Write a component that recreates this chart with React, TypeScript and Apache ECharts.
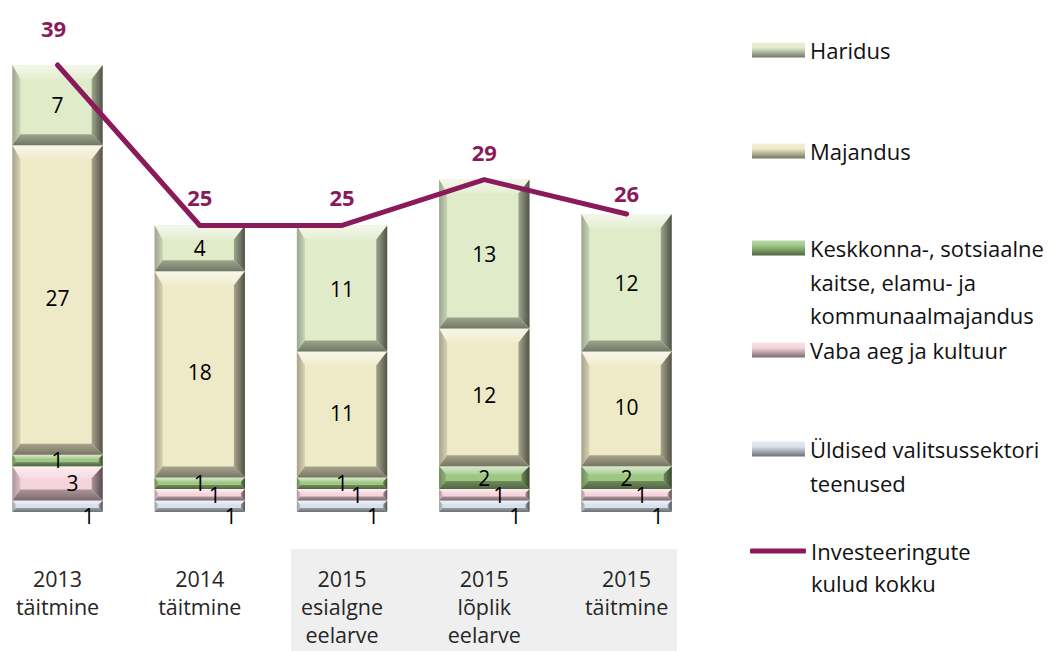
import React, { useEffect, useRef } from 'react';
import * as echarts from 'echarts';

const categories = ['2013\ntäitmine', '2014\ntäitmine', '2015\nesialgne\neelarve', '2015\nlõplik\neelarve', '2015\ntäitmine'];
const yldised = [1, 1, 1, 1, 1];
const vabaAeg = [3, 1, 1, 1, 1];
const keskkonna = [1, 1, 1, 2, 2];
const majandus = [27, 18, 11, 12, 10];
const haridus = [7, 4, 11, 13, 12];
const kokku = [39, 25, 25, 29, 26];

const stackNames = [
  'Üldised valitsussektori teenused',
  'Vaba aeg ja kultuur',
  'Keskkonna-, sotsiaalne kaitse, elamu- ja kommunaalmajandus',
  'Majandus',
  'Haridus',
];
const stackValues = [yldised, vabaAeg, keskkonna, majandus, haridus];
const stackColors = ['#d8e0ea', '#f6d4dc', '#9fc784', '#eee9c7', '#e0ebca'];
const labelOffsets = [[31, 10], [15, 0], [0, 0], [0, -2], [0, 0]];
const lineName = 'Investeeringute kulud kokku';
const lineColor = '#8b1a5b';
const lineLabelOffsets = [[-4, -9], [0, 0], [0, 0], [0, 0], [0, 7]];

const OFF = 14; // chart canvas is shifted left so the first bar can sit close to the page edge
const FONT = '"Open Sans", Lato, sans-serif';

function hexToRgb(h: string) {
  const n = parseInt(h.slice(1), 16);
  return [(n >> 16) & 255, (n >> 8) & 255, n & 255];
}
function mix(h: string, target: string, t: number) {
  const a = hexToRgb(h);
  const b = hexToRgb(target);
  const c = a.map((v, i) => Math.round(v + (b[i] - v) * t));
  return `rgb(${c[0]},${c[1]},${c[2]})`;
}

function makeRender(color: string, off: number[]) {
  return (params: any, api: any) => {
    const idx = api.value(0);
    const val = api.value(1);
    const base = api.value(2);
    const pb = api.coord([idx, base]);
    const pt = api.coord([idx, base + val]);
    const bw = api.size([1, 0])[0] * 0.635;
    const x0 = pb[0] - bw / 2;
    const x1 = pb[0] + bw / 2;
    const yb = pb[1];
    const yt = pt[1];
    const h = yb - yt;
    const bt = Math.min(14, h * 0.35);
    const bb = Math.min(11, h * 0.35);
    const bl = Math.min(8, h * 0.3);
    const br = Math.min(11, h * 0.35);
    const V = (a: string, b: string) =>
      new echarts.graphic.LinearGradient(0, 0, 0, 1, [{ offset: 0, color: a }, { offset: 1, color: b }]);
    const H = (a: string, b: string) =>
      new echarts.graphic.LinearGradient(0, 0, 1, 0, [{ offset: 0, color: a }, { offset: 1, color: b }]);
    const cx = (x0 + x1) / 2;
    const cy = (yt + yb) / 2;
    return {
      type: 'group',
      children: [
        { type: 'rect', shape: { x: x0, y: yt, width: bw, height: h }, style: { fill: color } },
        {
          type: 'polygon',
          shape: { points: [[x0, yt], [x1, yt], [x1 - br, yt + bt], [x0 + bl, yt + bt]] },
          style: { fill: V(mix(color, '#ffffff', 0.6), mix(color, '#ffffff', 0.15)) },
        },
        {
          type: 'polygon',
          shape: { points: [[x0, yt], [x0 + bl, yt + bt], [x0 + bl, yb - bb], [x0, yb]] },
          style: { fill: H(mix(color, '#000000', 0.3), mix(color, '#000000', 0.1)) },
        },
        {
          type: 'polygon',
          shape: { points: [[x1, yt], [x1 - br, yt + bt], [x1 - br, yb - bb], [x1, yb]] },
          style: { fill: H(mix(color, '#000000', 0.3), mix(color, '#000000', 0.65)) },
        },
        {
          type: 'polygon',
          shape: { points: [[x0, yb], [x1, yb], [x1 - br, yb - bb], [x0 + bl, yb - bb]] },
          style: { fill: V(mix(color, '#000000', 0.3), mix(color, '#000000', 0.5)) },
        },
        {
          type: 'text',
          x: cx + off[0],
          y: cy + off[1],
          style: {
            text: String(val),
            fill: '#000000',
            font: `21px ${FONT}`,
            align: 'center',
            verticalAlign: 'middle',
          },
          z2: 10,
        },
      ],
    };
  };
}

const customSeries = stackNames.map((name, si) => {
  const data = stackValues[si].map((v, ci) => {
    let base = 0;
    for (let k = 0; k < si; k++) base += stackValues[k][ci];
    return [ci, v, base];
  });
  const c = stackColors[si];
  return {
    type: 'custom',
    name,
    data,
    encode: { x: 0, y: 1 },
    itemStyle: {
      color: new echarts.graphic.LinearGradient(0, 0, 0, 1, [
        { offset: 0, color: mix(c, '#ffffff', 0.3) },
        { offset: 0.35, color: c },
        { offset: 1, color: mix(c, '#000000', 0.5) },
      ]),
    },
    renderItem: makeRender(c, labelOffsets[si]),
    z: 2,
  };
});

const legendDefs = [
  { name: 'Haridus', lines: ['Haridus'], c: 50, lh: 34 },
  { name: 'Majandus', lines: ['Majandus'], c: 151, lh: 34 },
  {
    name: 'Keskkonna-, sotsiaalne kaitse, elamu- ja kommunaalmajandus',
    lines: ['Keskkonna-, sotsiaalne', 'kaitse, elamu- ja', 'kommunaalmajandus'],
    c: 248,
    lh: 33.5,
  },
  { name: 'Vaba aeg ja kultuur', lines: ['Vaba aeg ja kultuur'], c: 350, lh: 34 },
  { name: 'Üldised valitsussektori teenused', lines: ['Üldised valitsussektori', 'teenused'], c: 449, lh: 34 },
  { name: lineName, lines: ['Investeeringute', 'kulud kokku'], c: 551, lh: 32 },
];

const legends = legendDefs.map((d) => {
  const isLine = d.name === lineName;
  const n = d.lines.length;
  // leading blank lines keep the first text line level with the icon
  const text = '\n'.repeat(n - 1) + d.lines.join('\n');
  return {
    data: [d.name],
    left: (isLine ? 750 : 752) + OFF,
    top: d.c - ((2 * n - 1) * d.lh) / 2,
    padding: 0,
    orient: 'vertical',
    selectedMode: false,
    icon: isLine ? 'roundRect' : 'rect',
    itemWidth: isLine ? 56 : 53,
    itemHeight: isLine ? 5 : 15,
    itemGap: 0,
    formatter: () => text,
    textStyle: {
      fontFamily: FONT,
      fontSize: 22,
      color: '#111111',
      lineHeight: d.lh,
    },
  };
});

const option: any = {
  animation: false,
  backgroundColor: '#ffffff',
  grid: { left: -13.6 + OFF, right: 360.3, top: 53.55, bottom: 139 },
  xAxis: {
    type: 'category',
    data: categories,
    axisLine: { show: false },
    axisTick: { show: false },
    axisLabel: {
      margin: 52,
      fontFamily: FONT,
      fontSize: 21.5,
      lineHeight: 28,
      color: '#262626',
      interval: 0,
    },
  },
  yAxis: {
    type: 'value',
    min: 0,
    max: 40,
    show: false,
    splitLine: { show: false },
  },
  legend: legends,
  graphic: [
    {
      type: 'rect',
      shape: { x: 291 + OFF, y: 549, width: 386, height: 102 },
      style: { fill: '#efefef' },
      z: -10,
      silent: true,
    },
  ],
  series: [
    ...customSeries,
    {
      type: 'line',
      name: lineName,
      data: kokku.map((v, i) => ({ value: v, label: { offset: lineLabelOffsets[i] } })),
      symbol: 'circle',
      symbolSize: 2,
      showSymbol: true,
      itemStyle: { color: lineColor },
      lineStyle: { color: lineColor, width: 5, cap: 'round', join: 'round' },
      label: {
        show: true,
        position: 'top',
        distance: 16,
        color: lineColor,
        fontFamily: FONT,
        fontWeight: 'bold',
        fontSize: 22,
      },
      z: 10,
    },
  ],
};

export default function App() {
  const ref = useRef<HTMLDivElement>(null);
  useEffect(() => {
    const chart = echarts.init(ref.current as HTMLDivElement, null, { renderer: 'svg' });
    chart.setOption(option);
    return () => chart.dispose();
  }, []);
  return <div ref={ref} style={{ position: 'fixed', left: -OFF, top: 0, width: 1058 + OFF, height: 651 }} />;
}
